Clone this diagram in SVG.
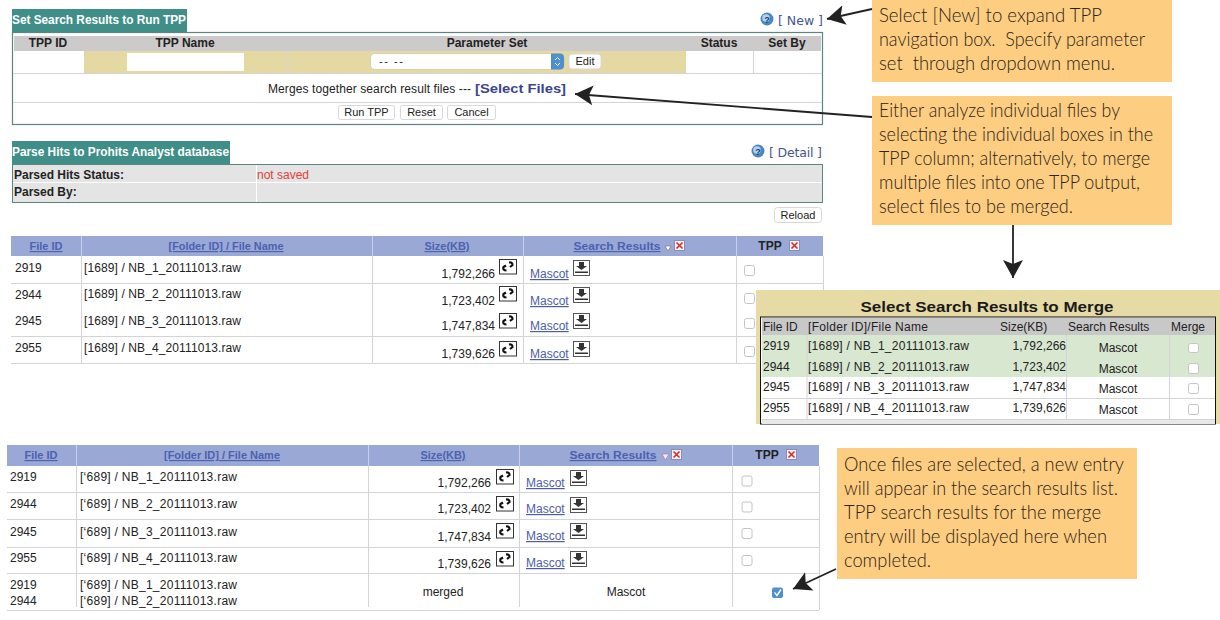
<svg xmlns="http://www.w3.org/2000/svg" width="1220" height="620" viewBox="0 0 1220 620">
<style>
text{font-family:"Liberation Sans",Arial,sans-serif;font-size:12px;fill:#222}
.b{font-weight:bold}
.c{text-anchor:middle}
.r{text-anchor:end}
.ttl{font-weight:bold;fill:#fff;font-size:12px}
.th{font-weight:bold;font-size:11.5px;fill:#4d61b0;text-decoration:underline;text-anchor:middle}
.lnk{fill:#4d5da5;text-decoration:underline}
.nav{font-family:"DejaVu Sans",sans-serif;font-size:12.5px;fill:#45558f}
.ln{stroke:#d4d4d8;stroke-width:1;fill:none}
.btn{fill:#fff;stroke:#d8d8d8;stroke-width:1}
.cb{fill:#fff;stroke:#c4c4c4;stroke-width:1}
.note{fill:#fdcd82}
.nt{font-family:Lato,"Open Sans",sans-serif;font-weight:300;font-size:19.5px;fill:#2b2213}
.wire{stroke:#222;stroke-width:1.8;fill:none;marker-end:url(#ah)}
.sm{font-size:11px}
</style>
<defs>
<marker id="ah" markerUnits="userSpaceOnUse" markerWidth="22" markerHeight="24" refX="18" refY="11" orient="auto">
<path d="M0,1 L18,11 L0,21 L4,11 Z" fill="#222"/>
</marker>
<g id="ilink"><rect x="0.5" y="0.5" width="17" height="14.500" fill="#fff" stroke="#333"/><path d="M7,6.500 L4.500,8 Q3.500,11.500 7.500,11.500 M10,3.500 Q13.500,3 13.500,6 L11,8" fill="none" stroke="#111" stroke-width="2.200"/></g>
<g id="idl"><rect x="0.5" y="0.5" width="16" height="15" fill="#fff" stroke="#555"/><path d="M6,2 H11 V6 H14 L8.500,10 L3,6 H6 Z" fill="#333"/><rect x="2" y="11.500" width="13" height="1.500" fill="#333"/></g>
<g id="ix"><rect x="0.5" y="0.5" width="10" height="10" fill="#f1f1f6" stroke="#8a8fb0"/><path d="M2.500,2.500 L8.500,8.500 M8.500,2.500 L2.500,8.500" stroke="#e02828" stroke-width="1.600"/></g>
<g id="ihelp"><circle cx="0" cy="0" r="6.500" fill="#4a88c4"/><circle cx="-1" cy="-1" r="3.800" fill="#b4d2ec"/><text x="0" y="3.500" class="c b" style="font-size:9px;fill:#123c70">?</text></g>
</defs>
<rect width="1220" height="620" fill="#fff"/>

<g id="tpp-panel">
<rect x="12" y="9" width="175" height="23" fill="#3f8f88"/>
<text x="12" y="24" class="ttl" textLength="174" lengthAdjust="spacingAndGlyphs">Set Search Results to Run TPP</text>
<rect x="12.500" y="32.500" width="810" height="92" fill="#fff" stroke="#5d8580" stroke-width="1.200"/>
<rect x="14" y="36" width="807" height="15" fill="#cccaca"/>
<rect x="84" y="51" width="602" height="22" fill="#e4d8a3"/>
<rect x="127" y="53" width="117" height="18" fill="#fff"/>
<path d="M288,51V73M753.500,51V73" class="ln"/>
<path d="M13,73.500H822M13,102.500H822" class="ln"/>
<text x="48" y="47" class="b c">TPP ID</text>
<text x="185" y="47" class="b c">TPP Name</text>
<text x="487" y="47" class="b c">Parameter Set</text>
<text x="719" y="47" class="b c">Status</text>
<text x="787" y="47" class="b c">Set By</text>
<rect x="370.500" y="53.500" width="194" height="16" rx="4" fill="#fff" stroke="#d9d1a8"/>
<path d="M551,53.500H560a4,4 0 0 1 4,4V65.500a4,4 0 0 1 -4,4H551Z" fill="#4d8fd0"/>
<path d="M555,60L557.500,57.500L560,60M555,63L557.500,65.500L560,63" fill="none" stroke="#fff" stroke-width="1"/>
<text x="379" y="65" class="sm" textLength="24">--  --</text>
<rect x="569" y="54" width="32" height="15" rx="3" class="btn"/>
<text x="585" y="65" class="c sm">Edit</text>
<text x="268" y="93" textLength="203">Merges together search result files ---</text>
<text x="475" y="93" class="b" style="font-size:13.500px;fill:#3b4590" textLength="91" lengthAdjust="spacingAndGlyphs">[Select Files]</text>
<rect x="338.500" y="105.500" width="56" height="14" rx="2" class="btn"/>
<text x="366.500" y="116" class="c sm">Run TPP</text>
<rect x="400.500" y="105.500" width="42" height="14" rx="2" class="btn"/>
<text x="421.500" y="116" class="c sm">Reset</text>
<rect x="447.500" y="105.500" width="48" height="14" rx="2" class="btn"/>
<text x="471.500" y="116" class="c sm">Cancel</text>
<use href="#ihelp" x="767" y="19"/>
<text x="778" y="25" class="nav" textLength="45">[ New ]</text>
</g>

<g id="parse-panel">
<rect x="12" y="141" width="218" height="23" fill="#3f8f88"/>
<text x="12" y="156" class="ttl" textLength="217" lengthAdjust="spacingAndGlyphs">Parse Hits to Prohits Analyst database</text>
<rect x="12.500" y="164.500" width="810" height="38" fill="#e3e4e3" stroke="#5d8580" stroke-width="1"/>
<path d="M13,182.500H822M256.500,165V202" stroke="#fff" stroke-width="1"/>
<text x="14" y="179" class="b">Parsed Hits Status:</text>
<text x="14" y="196" class="b">Parsed By:</text>
<text x="257" y="179" style="fill:#e04040">not saved</text>
<use href="#ihelp" x="758" y="151"/>
<text x="769" y="157" class="nav" textLength="53">[ Detail ]</text>
<rect x="774.500" y="207.500" width="47" height="15" rx="3" class="btn"/>
<text x="798" y="219" class="c sm">Reload</text>
</g>

<g id="results-table">
<rect x="11" y="236" width="812" height="20" fill="#9aa8d6"/>
<path d="M81.500,256V363M372.500,256V363M523.500,256V363M736.500,256V363" class="ln"/>
<path d="M81.500,236V256M372.500,236V256M523.500,236V256M736.500,236V256" stroke="#c8d0ec" stroke-width="1"/>
<path d="M11,283.500H823M11,336.500H823M11,363.500H823M823.500,256V363" class="ln"/>
<text x="46" y="250" class="th" textLength="33" lengthAdjust="spacingAndGlyphs">File ID</text>
<text x="226" y="250" class="th" textLength="115" lengthAdjust="spacingAndGlyphs">[Folder ID] / File Name</text>
<text x="447" y="250" class="th" textLength="45" lengthAdjust="spacingAndGlyphs">Size(KB)</text>
<text x="617" y="250" class="th" textLength="87" lengthAdjust="spacingAndGlyphs">Search Results</text>
<path d="M665,246H671L668,251Z" fill="#fff" stroke="#777" stroke-width="0.7"/>
<use href="#ix" x="674" y="240"/>
<text x="770" y="250" class="b c">TPP</text>
<use href="#ix" x="789" y="240"/>
<text x="15" y="272">2919</text><text x="84" y="272" textLength="157">[1689] / NB_1_20111013.raw</text>
<text x="15" y="299">2944</text><text x="84" y="298" textLength="157">[1689] / NB_2_20111013.raw</text>
<text x="15" y="325">2945</text><text x="84" y="325" textLength="157">[1689] / NB_3_20111013.raw</text>
<text x="15" y="352">2955</text><text x="84" y="352" textLength="157">[1689] / NB_4_20111013.raw</text>
<text x="495" y="278" class="r">1,792,266</text><text x="495" y="305" class="r">1,723,402</text>
<text x="495" y="330" class="r">1,747,834</text><text x="495" y="358" class="r">1,739,626</text>
<use href="#ilink" x="499" y="259"/><use href="#ilink" x="499" y="286"/><use href="#ilink" x="499" y="313"/><use href="#ilink" x="499" y="341"/>
<text x="530" y="278" class="lnk">Mascot</text><text x="530" y="305" class="lnk">Mascot</text><text x="530" y="330" class="lnk">Mascot</text><text x="530" y="358" class="lnk">Mascot</text>
<use href="#idl" x="573" y="260"/><use href="#idl" x="573" y="287"/><use href="#idl" x="573" y="313"/><use href="#idl" x="573" y="341"/>
<rect x="744.500" y="265.500" width="10" height="10" rx="2" class="cb"/><rect x="744.500" y="293.500" width="10" height="10" rx="2" class="cb"/><rect x="744.500" y="318.500" width="10" height="10" rx="2" class="cb"/><rect x="744.500" y="346.500" width="10" height="10" rx="2" class="cb"/>
</g>

<g id="merge-inset">
<rect x="756" y="290" width="464" height="134" fill="#e7dba5"/>
<text x="987" y="312" class="b c" style="font-size:15.500px;fill:#1a1a1a" textLength="253" lengthAdjust="spacingAndGlyphs">Select Search Results to Merge</text>
<rect x="760.500" y="317" width="455" height="107" fill="#fff" stroke="#111" stroke-width="1"/>
<rect x="762" y="318" width="453" height="17" fill="#c8c8c8"/>
<rect x="762" y="335" width="453" height="42" fill="#d8e7cf"/>
<rect x="762" y="419" width="453" height="5" fill="#e8e8e8"/>
<path d="M762,398.500H1215M762,419.500H1215M807,335V419M1066.500,335V419M1169.500,335V419" class="ln"/>
<text x="763" y="331">File ID</text><text x="808" y="331" textLength="120">[Folder ID]/File Name</text><text x="1000" y="331">Size(KB)</text><text x="1068" y="331">Search Results</text><text x="1171" y="331">Merge</text>
<text x="763" y="350">2919</text><text x="808" y="350" textLength="161">[1689] / NB_1_20111013.raw</text><text x="1066" y="350" class="r">1,792,266</text><text x="1118" y="352" class="c">Mascot</text>
<text x="763" y="371">2944</text><text x="808" y="371" textLength="161">[1689] / NB_2_20111013.raw</text><text x="1066" y="371" class="r">1,723,402</text><text x="1118" y="373" class="c">Mascot</text>
<text x="763" y="391">2945</text><text x="808" y="391" textLength="161">[1689] / NB_3_20111013.raw</text><text x="1066" y="391" class="r">1,747,834</text><text x="1118" y="393" class="c">Mascot</text>
<text x="763" y="412">2955</text><text x="808" y="412" textLength="161">[1689] / NB_4_20111013.raw</text><text x="1066" y="412" class="r">1,739,626</text><text x="1118" y="414" class="c">Mascot</text>
<rect x="1188.500" y="343.500" width="10" height="9" rx="2" class="cb"/><rect x="1188.500" y="363.500" width="10" height="10" rx="2" class="cb"/><rect x="1188.500" y="383.500" width="10" height="10" rx="2" class="cb"/><rect x="1188.500" y="404.500" width="10" height="10" rx="2" class="cb"/>
</g>

<g id="merged-table">
<rect x="7" y="445" width="812" height="21" fill="#9aa8d6"/>
<path d="M76.500,466V607M368.500,466V607M519.500,466V607M732.500,466V607" class="ln"/>
<path d="M76.500,445V466M368.500,445V466M519.500,445V466M732.500,445V466" stroke="#c8d0ec" stroke-width="1"/>
<path d="M7,492.500H819M7,519.500H819M7,547.500H819M7,573.500H819M7,610.500H819M819.500,466V610" class="ln"/>
<text x="41" y="459" class="th" textLength="33" lengthAdjust="spacingAndGlyphs">File ID</text>
<text x="222" y="459" class="th" textLength="116" lengthAdjust="spacingAndGlyphs">[Folder ID] / File Name</text>
<text x="443" y="459" class="th" textLength="45" lengthAdjust="spacingAndGlyphs">Size(KB)</text>
<text x="613" y="459" class="th" textLength="87" lengthAdjust="spacingAndGlyphs">Search Results</text>
<path d="M662,454H669L665.500,460Z" fill="#f3e8f6" stroke="#a080b8" stroke-width="0.7"/>
<use href="#ix" x="671" y="449"/>
<text x="767" y="459" class="b c">TPP</text>
<use href="#ix" x="786" y="449"/>
<text x="10" y="481">2919</text><text x="80" y="481" textLength="157">[‘689] / NB_1_20111013.raw</text>
<text x="10" y="508">2944</text><text x="80" y="508" textLength="157">[‘689] / NB_2_20111013.raw</text>
<text x="10" y="536">2945</text><text x="80" y="536" textLength="157">[‘689] / NB_3_20111013.raw</text>
<text x="10" y="562">2955</text><text x="80" y="562" textLength="157">[‘689] / NB_4_20111013.raw</text>
<text x="10" y="589">2919</text><text x="80" y="589" textLength="157">[‘689] / NB_1_20111013.raw</text>
<text x="10" y="605">2944</text><text x="80" y="605" textLength="157">[‘689] / NB_2_20111013.raw</text>
<text x="491" y="487" class="r">1,792,266</text><text x="491" y="513" class="r">1,723,402</text><text x="491" y="541" class="r">1,747,834</text><text x="491" y="568" class="r">1,739,626</text>
<use href="#ilink" x="496" y="469"/><use href="#ilink" x="496" y="496"/><use href="#ilink" x="496" y="523"/><use href="#ilink" x="496" y="551"/>
<text x="526" y="487" class="lnk">Mascot</text><text x="526" y="513" class="lnk">Mascot</text><text x="526" y="540" class="lnk">Mascot</text><text x="526" y="567" class="lnk">Mascot</text>
<use href="#idl" x="570" y="470"/><use href="#idl" x="570" y="497"/><use href="#idl" x="570" y="523"/><use href="#idl" x="570" y="551"/>
<rect x="742" y="476" width="10" height="10" rx="2" class="cb"/><rect x="742" y="502" width="10" height="10" rx="2" class="cb"/><rect x="742" y="528.500" width="10" height="10" rx="2" class="cb"/><rect x="742" y="555.500" width="10" height="10" rx="2" class="cb"/>
<text x="443" y="596" class="c">merged</text>
<text x="626" y="596" class="c">Mascot</text>
<rect x="772" y="587.500" width="11" height="10.500" rx="2" fill="#4f8fd0"/>
<path d="M774.500,592.500L777,595.500L781,589.500" fill="none" stroke="#fff" stroke-width="1.500"/>
</g>

<g id="note-new">
<rect x="872" y="0" width="300" height="82" class="note"/>
<text class="nt" x="879" y="22" textLength="223" lengthAdjust="spacingAndGlyphs">Select [New] to expand TPP</text>
<text class="nt" x="879" y="46" textLength="266" lengthAdjust="spacingAndGlyphs" xml:space="preserve">navigation box.  Specify parameter</text>
<text class="nt" x="879" y="70" textLength="236" lengthAdjust="spacingAndGlyphs" xml:space="preserve">set  through dropdown menu.</text>
</g>
<g id="note-files">
<rect x="872" y="96" width="300" height="129" class="note"/>
<text class="nt" x="879" y="117" textLength="241" lengthAdjust="spacingAndGlyphs">Either analyze individual files by</text>
<text class="nt" x="879" y="141" textLength="274" lengthAdjust="spacingAndGlyphs">selecting the individual boxes in the</text>
<text class="nt" x="879" y="165" textLength="271" lengthAdjust="spacingAndGlyphs">TPP column; alternatively, to merge</text>
<text class="nt" x="879" y="189" textLength="261" lengthAdjust="spacingAndGlyphs">multiple files into one TPP output,</text>
<text class="nt" x="879" y="213" textLength="194" lengthAdjust="spacingAndGlyphs">select files to be merged.</text>
</g>
<g id="note-entry">
<rect x="837" y="448" width="300" height="131" class="note"/>
<text class="nt" x="844" y="471" textLength="280" lengthAdjust="spacingAndGlyphs">Once files are selected, a new entry</text>
<text class="nt" x="844" y="495" textLength="274" lengthAdjust="spacingAndGlyphs">will appear in the search results list.</text>
<text class="nt" x="844" y="519" textLength="257" lengthAdjust="spacingAndGlyphs">TPP search results for the merge</text>
<text class="nt" x="844" y="543" textLength="263" lengthAdjust="spacingAndGlyphs">entry will be displayed here when</text>
<text class="nt" x="844" y="567" textLength="87" lengthAdjust="spacingAndGlyphs">completed.</text>
</g>

<g id="connectors">
<path class="wire" d="M872,9L827,19"/>
<path class="wire" d="M872,117L575,94"/>
<path class="wire" d="M1013,225V278"/>
<path class="wire" d="M836,569L793,589"/>
</g>
</svg>
